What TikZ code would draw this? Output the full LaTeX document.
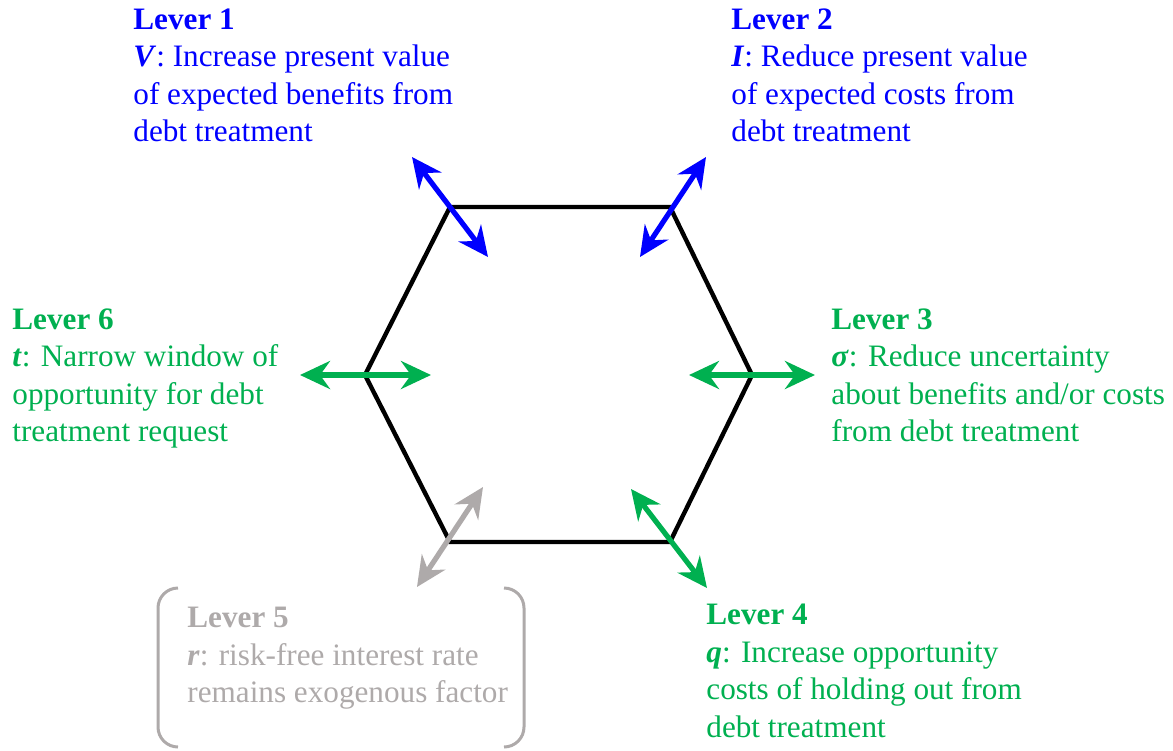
\documentclass[tikz,border=0pt]{standalone}
\usepackage{fontspec}
\setmainfont{Liberation Serif}
\usetikzlibrary{
	arrows.meta,
}
\definecolor{leverblue}{rgb}{0.0, 0.0, 1.0}
\definecolor{levergreen}{RGB}{0, 176, 80}
\definecolor{levergray}{RGB}{174, 170, 170}

\begin{document}
\begin{tikzpicture}[x=0.5pt, y=-0.5pt,
	every node/.style={font=\rmfamily\fontsize{15.6}{18.75}\selectfont, align=left, anchor=north west, inner sep=0pt},
	lever arrow/.style={line width=2.6pt, {Stealth[length=15pt, width=14pt, inset=5pt]}-{Stealth[length=15pt, width=14pt, inset=5pt]}}]
\useasboundingbox (0,0) rectangle (1173,750);
% hexagon
\coordinate (tl) at (450,207);
\coordinate (tr) at (670,207);
\coordinate (r) at (752,375);
\coordinate (br) at (670,542);
\coordinate (bl) at (450,542);
\coordinate (l) at (365,375);
\draw[line width=2.2pt, line join=miter] (tl) -- (tr) -- (r) -- (br) -- (bl) -- (l) -- cycle;

% arrow ends
\coordinate (a1out) at (412,157);
\coordinate (a1in) at (488,257);
\coordinate (a2out) at (706,157);
\coordinate (a2in) at (640,257);
\coordinate (a3in) at (689,375);
\coordinate (a3out) at (815,375);
\coordinate (a4in) at (631,489);
\coordinate (a4out) at (707,588);
\coordinate (a5in) at (483,487);
\coordinate (a5out) at (417,587);
\coordinate (a6out) at (300,375);
\coordinate (a6in) at (431,375);

% levers 1 and 2
\draw[lever arrow, leverblue] (a1out) -- (a1in);
\draw[lever arrow, leverblue] (a2out) -- (a2in);
% levers 3, 4 and 6
\draw[lever arrow, levergreen] (a3in) -- (a3out);
\draw[lever arrow, levergreen] (a4in) -- (a4out);
\draw[lever arrow, levergreen] (a6out) -- (a6in);
% lever 5
\draw[lever arrow, levergray] (a5in) -- (a5out);

% texts
\node[text=leverblue] (lever1) at (133,8) {\textbf{Lever 1}\\\textbf{\textit{V}}: Increase present value\\of expected benefits from\\debt treatment};
\node[text=leverblue] (lever2) at (731,8) {\textbf{Lever 2}\\\textbf{\textit{I}}: Reduce present value\\of expected costs from\\debt treatment};
\node[text=levergreen] (lever3) at (831,308) {\textbf{Lever 3}\\\textbf{\textit{σ}}: Reduce uncertainty\\about benefits and/or costs\\from debt treatment};
\node[text=levergreen] (lever4) at (706,604) {\textbf{Lever 4}\\\textbf{\textit{q}}: Increase opportunity\\costs of holding out from\\debt treatment};
\node[text=levergray] (lever5) at (187,607) {\textbf{Lever 5}\\\textbf{\textit{r}}: risk-free interest rate\\remains exogenous factor};
\node[text=levergreen] (lever6) at (12,308) {\textbf{Lever 6}\\\textbf{\textit{t}}: Narrow window of\\opportunity for debt\\treatment request};

% bracket round lever 5
\draw[levergray, line width=1.5pt] (178,588) arc (270:180:20) -- (158,727) arc (180:90:20);
\draw[levergray, line width=1.5pt] (504,588) arc (270:360:20) -- (524,727) arc (0:90:20);
\end{tikzpicture}
\end{document}
